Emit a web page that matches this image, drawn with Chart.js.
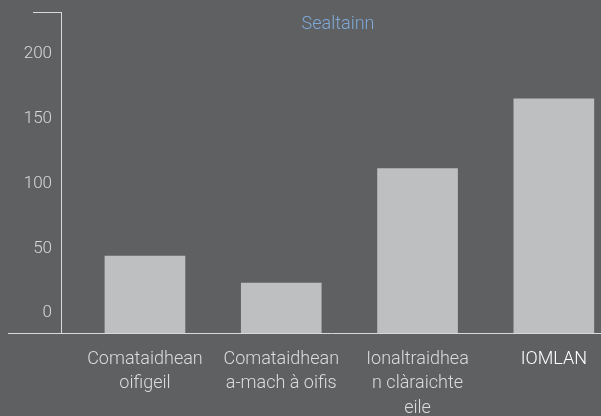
<!DOCTYPE html>
<html lang="gd">
<head>
  <meta charset="UTF-8" />
  <title>Sealtainn</title>
  <script src="https://cdn.jsdelivr.net/npm/chart.js"></script>
  <style>
    html, body {
      margin: 0;
      padding: 0;
      background: #5f6062;
    }
    .wrap {
      width: 601px;
      height: 416px;
      position: relative;
    }
  </style>
</head>
<body>
  <div class="wrap">
    <canvas id="chart"></canvas>
  </div>

  <script>
    const chartTitle = 'Sealtainn';
    const categories = [
      ['Comataidhean', 'oifigeil'],
      ['Comataidhean', 'a-mach à oifis'],
      ['Ionaltraidhea', 'n clàraichte', 'eile'],
      ['IOMLAN']
    ];
    const values = [42.5, 21.5, 110, 164];
    const yTicks = [0, 50, 100, 150, 200];

    const yMin = -17;
    const yMax = 231;
    const xMin = -0.616;
    const xMax = 3.346;

    const fontFamily = "Roboto, 'Open Sans', sans-serif";

    // title sits inside the plot area, and the x axis line runs on past the y axis
    const extras = {
      id: 'extras',
      afterDraw(chart) {
        const { ctx, chartArea } = chart;
        ctx.save();
        ctx.strokeStyle = '#d9d9d9';
        ctx.lineWidth = 1;
        ctx.beginPath();
        ctx.moveTo(chartArea.left - 53, chartArea.bottom + 0.5);
        ctx.lineTo(chartArea.left, chartArea.bottom + 0.5);
        ctx.stroke();

        ctx.fillStyle = '#7fa9d8';
        ctx.font = '300 18px ' + fontFamily;
        ctx.textAlign = 'center';
        ctx.textBaseline = 'middle';
        ctx.fillText(chartTitle, (chartArea.left + chartArea.right) / 2 + 7, chartArea.top + 12);
        ctx.restore();
      }
    };

    const ctx = document.getElementById('chart').getContext('2d');

    new Chart(ctx, {
      type: 'bar',
      data: {
        datasets: [{
          data: values.map((v, i) => ({ x: i, y: v })),
          backgroundColor: '#bebfc1',
          borderWidth: 0,
          barThickness: 80,
          base: yMin
        }]
      },
      options: {
        responsive: true,
        maintainAspectRatio: false,
        animation: false,
        layout: { padding: { left: 0, right: 0, top: 12, bottom: 0 } },
        plugins: {
          legend: { display: false },
          title: { display: false },
          tooltip: { enabled: false }
        },
        scales: {
          x: {
            type: 'linear',
            min: xMin,
            max: xMax,
            offset: false,
            bounds: 'data',
            afterBuildTicks(scale) {
              scale.ticks = categories.map((_, i) => ({ value: i }));
            },
            afterFit(scale) {
              scale.height = 83;
            },
            grid: { display: false, drawTicks: false },
            border: { display: true, color: '#d9d9d9', width: 1 },
            ticks: {
              padding: 14,
              maxRotation: 0,
              autoSkip: false,
              callback: (v) => categories[v],
              color: (c) => c.index === categories.length - 1 ? '#ffffff' : '#dcdcdc',
              font: {
                family: fontFamily,
                size: 18,
                weight: 300,
                lineHeight: 1.36
              }
            }
          },
          y: {
            min: yMin,
            max: yMax,
            bounds: 'data',
            afterBuildTicks(scale) {
              scale.ticks = yTicks.concat([yMax]).map(v => ({ value: v }));
            },
            afterFit(scale) {
              scale.width = 61;
            },
            grid: {
              drawOnChartArea: false,
              drawTicks: true,
              tickLength: 28,
              color: (c) => c.tick && c.tick.value === yMax ? '#d9d9d9' : 'rgba(0,0,0,0)'
            },
            border: { display: true, color: '#d9d9d9', width: 1 },
            ticks: {
              padding: -19,
              labelOffset: 2,
              color: '#d8d8d8',
              font: { family: fontFamily, size: 17, weight: 300 },
              callback: (v) => yTicks.includes(v) ? String(v) : ''
            }
          }
        }
      },
      plugins: [extras]
    });
  </script>
</body>
</html>
